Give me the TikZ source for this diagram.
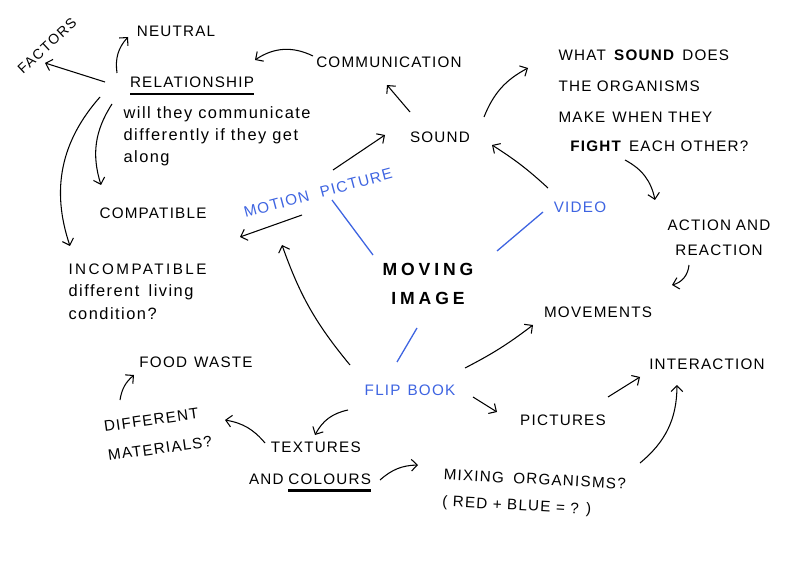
\documentclass[tikz,border=0pt]{standalone}
\usepackage{fontspec}
\setmainfont{Liberation Sans}[LetterSpace=8]
\usetikzlibrary{arrows.meta, positioning}
\definecolor{penblue}{RGB}{62,100,225}
\newcommand\thickul[1]{\setbox0\hbox{#1}\rlap{\rule[-7pt]{\wd0}{2.4pt}}\box0}

\begin{document}
\begin{tikzpicture}[x=0.03cm, y=-0.03cm, font=\fontsize{13}{15}\selectfont, every node/.style={inner sep=2pt},
  arr/.style={-{Straight Barb[length=5pt,width=10pt]}, line width=0.9pt},
  blueword/.style={text=penblue},
  blueline/.style={draw=penblue, line width=1.1pt},
  small/.style={font=\fontsize{14}{16}\selectfont\addfontfeature{LetterSpace=9}, align=left}]
\useasboundingbox (0,0) rectangle (800,566);

% left side
\node (fac) at (47,46) [rotate=43, font=\fontsize{12}{14}\selectfont\addfontfeature{LetterSpace=10}] {FACTORS};
\node (neu) at (176,31) {NEUTRAL};
\node (rel) at (192,86) {\thickul{RELATIONSHIP}};
\node (relq) at (121,104) [anchor=north west, small] {will they communicate\\[3pt] differently if they get\\[3pt] along};
\node (comp) at (153,213) {COMPATIBLE};
\node (inc) at (66,261) [anchor=north west, small] {\fontsize{13}{15}\selectfont\addfontfeature{LetterSpace=16}INCOMPATIBLE\\[3pt] different\hspace{8pt}living\\[4pt] condition?};

% top
\node (comm) at (389,62) {COMMUNICATION};
\node (snd) at (440,137) {SOUND};
\node (what) at (556,47) [anchor=north west, align=left] {WHAT\hspace{6pt}\textbf{SOUND}\hspace{6pt}DOES\\[12pt] THE ORGANISMS\\[11pt] MAKE\hspace{6pt}WHEN THEY\\[10pt] \hspace{10pt}\textbf{FIGHT}\hspace{6pt}EACH OTHER?};
\coordinate (commend) at (255,60);

% centre
\node (mp) at (318,193) [rotate=15, blueword] {MOTION\hspace{10pt}PICTURE};
\coordinate (mpend) at (240,237);
\node (vid) at (580,207) [blueword] {VIDEO};
\node (mi) at (428,284) [font=\fontsize{15}{17}\selectfont\bfseries\addfontfeature{LetterSpace=22}, align=center] {MOVING\\[8pt] IMAGE};
\node (act) at (719,238) [align=center] {ACTION\hspace{4pt}AND\\[6pt] REACTION};
\node (mov) at (598,312) {MOVEMENTS};

% bottom
\node (food) at (196,362) {FOOD\hspace{6pt}WASTE};
\node (inter) at (707,364) {INTERACTION};
\node (fb) at (410,390) [blueword] {FLIP\hspace{6pt}BOOK};
\node (mat) at (158,434) [rotate=8, align=left] {DIFFERENT\\[10pt] MATERIALS?};
\node (pic) at (563,420) {PICTURES};
\node (tex) at (310,467) [align=center] {\hspace{10pt}TEXTURES\\[12pt] AND\hspace{4pt}\thickul{COLOURS}};
\node (mix) at (534,494) [rotate=-3, align=left] {MIXING\hspace{8pt}ORGANISMS?\\[8pt] ( RED + BLUE = ? )};

% blue links
\draw [blueline] ([shift={(-55,-29)}]mi.center) -- ([shift={(14,7)}]mp.center);
\draw [blueline] ([shift={(69,-33)}]mi.center) -- ([shift={(-37,5)}]vid.center);
\draw [blueline] ([shift={(-11,44)}]mi.center) -- ([shift={(-13,-28)}]fb.center);

% arrows
\path [arr]
  ([shift={(-87,-4)}]rel.center) edge ([shift={(-2,17)}]fac.center)
  ([shift={(-75,-13)}]rel.center) edge[bend left=25] ([shift={(-48,6)}]neu.center)
  ([shift={(-80,18)}]rel.center) edge[bend right=25] ([shift={(-52,-28)}]comp.center)
  ([shift={(-92,11)}]rel.center) edge[bend right=30] ([shift={(4,-15)}]inc.north west)
  ([shift={(-76,-6)}]comm.center) edge[bend right=30] (commend)
  ([shift={(-30,-25)}]snd.center) edge ([shift={(-2,23)}]comm.center)
  ([shift={(15,-23)}]mp.center) edge ([shift={(-55,-2)}]snd.center)
  ([shift={(44,-20)}]snd.center) edge[bend left=20] ([shift={(-28,21)}]what.north west)
  ([shift={(-32,-19)}]vid.center) edge[bend right=5] ([shift={(52,8)}]snd.center)
  ([shift={(69,113)}]what.north west) edge[bend left=25] ([shift={(-64,-38)}]act.center)
  ([shift={(-30,27)}]act.center) edge[bend left=35] ([shift={(74,-27)}]mov.center)
  ([shift={(-16,22)}]mp.center) edge (mpend)
  ([shift={(-60,-25)}]fb.center) edge[bend left=10] ([shift={(-36,52)}]mp.center)
  ([shift={(55,-22)}]fb.center) edge[bend right=5] ([shift={(-65,13)}]mov.center)
  ([shift={(63,7)}]fb.center) edge ([shift={(-66,-8)}]pic.center)
  ([shift={(-62,20)}]fb.center) edge[bend right=25] ([shift={(5,-32)}]tex.center)
  ([shift={(-45,-24)}]tex.center) edge[bend right=20] ([shift={(67,-14)}]mat.center)
  ([shift={(-38,-34)}]mat.center) edge[bend left=20] ([shift={(-62,13)}]food.center)
  ([shift={(70,13)}]tex.center) edge[bend left=20] ([shift={(-116,-29)}]mix.center)
  ([shift={(106,-31)}]mix.center) edge[bend right=25] ([shift={(-30,21)}]inter.center)
  ([shift={(45,-23)}]pic.center) edge ([shift={(-67,13)}]inter.center);
\end{tikzpicture}
\end{document}
